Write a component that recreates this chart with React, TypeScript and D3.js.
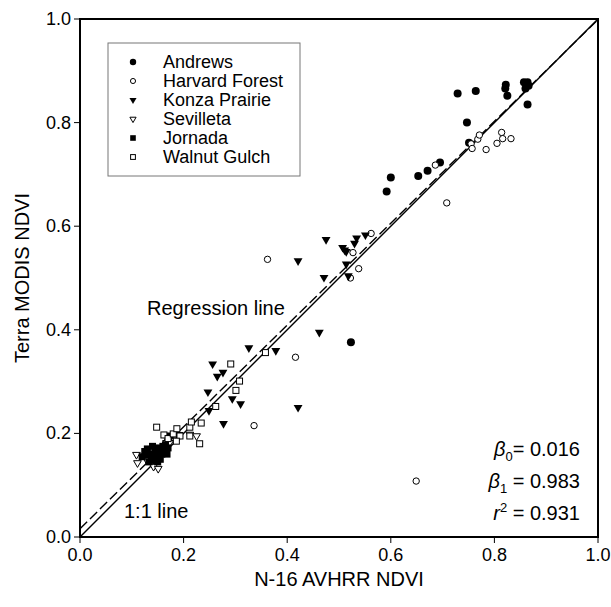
import React from "react";
import * as d3 from "d3";

const andrewsX = [0.523, 0.592, 0.600, 0.653, 0.671, 0.695, 0.751, 0.747, 0.729, 0.764, 0.822, 0.821, 0.825, 0.857, 0.864, 0.860, 0.866, 0.864];
const andrewsY = [0.376, 0.667, 0.694, 0.697, 0.707, 0.723, 0.761, 0.800, 0.856, 0.861, 0.873, 0.866, 0.852, 0.878, 0.878, 0.866, 0.871, 0.835];

const harvardX = [0.336, 0.362, 0.416, 0.522, 0.538, 0.527, 0.562, 0.649, 0.686, 0.708, 0.755, 0.757, 0.768, 0.771, 0.784, 0.805, 0.814, 0.816, 0.832];
const harvardY = [0.215, 0.536, 0.347, 0.500, 0.518, 0.549, 0.586, 0.108, 0.718, 0.645, 0.759, 0.750, 0.768, 0.776, 0.748, 0.760, 0.781, 0.769, 0.769];

const konzaX = [0.247, 0.249, 0.256, 0.265, 0.276, 0.277, 0.294, 0.310, 0.326, 0.378, 0.421, 0.421, 0.462, 0.471, 0.475, 0.507, 0.511, 0.514, 0.514, 0.518, 0.530, 0.534, 0.551, 0.145, 0.170];
const konzaY = [0.280, 0.244, 0.334, 0.310, 0.318, 0.219, 0.267, 0.257, 0.365, 0.360, 0.250, 0.533, 0.395, 0.501, 0.574, 0.559, 0.554, 0.551, 0.527, 0.504, 0.567, 0.577, 0.583, 0.170, 0.185];

const sevilletaX = [0.109, 0.111, 0.142, 0.151, 0.167, 0.173, 0.189, 0.212, 0.225, 0.128];
const sevilletaY = [0.159, 0.143, 0.136, 0.132, 0.182, 0.182, 0.191, 0.198, 0.195, 0.150];

const jornadaX = [0.125, 0.130, 0.135, 0.140, 0.145, 0.150, 0.155, 0.160, 0.148, 0.138, 0.142, 0.152, 0.158, 0.162, 0.165, 0.170, 0.128, 0.133, 0.145, 0.150, 0.155, 0.168, 0.120, 0.172, 0.192];
const jornadaY = [0.165, 0.170, 0.160, 0.175, 0.168, 0.172, 0.165, 0.175, 0.155, 0.150, 0.160, 0.158, 0.160, 0.168, 0.178, 0.172, 0.158, 0.145, 0.148, 0.145, 0.150, 0.160, 0.155, 0.195, 0.196];

const walnutX = [0.148, 0.162, 0.170, 0.180, 0.187, 0.193, 0.186, 0.212, 0.212, 0.215, 0.231, 0.234, 0.262, 0.301, 0.308, 0.291, 0.358];
const walnutY = [0.212, 0.197, 0.190, 0.199, 0.209, 0.195, 0.185, 0.212, 0.195, 0.222, 0.180, 0.220, 0.252, 0.283, 0.301, 0.334, 0.356];

const legendNames = ["Andrews", "Harvard Forest", "Konza Prairie", "Sevilleta", "Jornada", "Walnut Gulch"];
const ticks = [0, 0.2, 0.4, 0.6, 0.8, 1.0];
const beta0 = 0.016;
const beta1 = 0.983;
const r2 = 0.931;

type Kind = "fcircle" | "ocircle" | "ftri" | "otri" | "fsq" | "osq";

const series: { name: string; xs: number[]; ys: number[]; kind: Kind }[] = [
  { name: legendNames[0], xs: andrewsX, ys: andrewsY, kind: "fcircle" },
  { name: legendNames[1], xs: harvardX, ys: harvardY, kind: "ocircle" },
  { name: legendNames[2], xs: konzaX, ys: konzaY, kind: "ftri" },
  { name: legendNames[3], xs: sevilletaX, ys: sevilletaY, kind: "otri" },
  { name: legendNames[4], xs: jornadaX, ys: jornadaY, kind: "fsq" },
  { name: legendNames[5], xs: walnutX, ys: walnutY, kind: "osq" },
];

const FONT = "'Liberation Sans', Arial, Helvetica, sans-serif";

function Marker({ kind, x, y, scale = 1 }: { kind: Kind; x: number; y: number; scale?: number }) {
  const filled = kind.startsWith("f");
  const fill = filled ? "#000" : "#fff";
  const stroke = "#000";
  const sw = 1;
  if (kind === "fcircle") return <circle cx={x} cy={y} r={4 * scale} fill="#000" />;
  if (kind === "ocircle") return <circle cx={x} cy={y} r={3.2 * scale} fill="#fff" stroke={stroke} strokeWidth={sw} />;
  if (kind === "ftri" || kind === "otri") {
    const p = d3.symbol().type(d3.symbolTriangle).size((filled ? 34 : 26) * scale * scale)();
    return <path d={p || ""} transform={`translate(${x},${y}) rotate(180)`} fill={fill} stroke={filled ? "none" : stroke} strokeWidth={sw} />;
  }
  const s = (filled ? 7 : 6) * scale;
  return <rect x={x - s / 2} y={y - s / 2} width={s} height={s} fill={fill} stroke={filled ? "none" : stroke} strokeWidth={sw} />;
}

export default function App() {
  const W = 611, H = 607;
  const left = 80, right = 598, top = 19, bottom = 537;
  const x = d3.scaleLinear().domain([0, 1]).range([left, right]);
  const y = d3.scaleLinear().domain([0, 1]).range([bottom, top]);

  const oneToOne = d3.line<number>().x((d) => x(d)).y((d) => y(d))([0, 1]);
  const regX = [0, (1 - beta0) / beta1];
  const reg = d3.line<number>().x((d) => x(d)).y((d) => y(beta0 + beta1 * d))(regX);

  const legL = 108, legT = 43, legR = 300, legB = 176;
  const rowY0 = 62, rowDy = 19;

  return (
    <svg width={W} height={H} style={{ position: "absolute", left: 0, top: 0 }} fontFamily={FONT}>
      <rect width={W} height={H} fill="#fff" />
      <defs>
        <clipPath id="plotclip">
          <rect x={left} y={top} width={right - left} height={bottom - top} />
        </clipPath>
      </defs>
      {/* lines */}
      <g clipPath="url(#plotclip)">
        <path d={oneToOne || ""} stroke="#000" strokeWidth={1.4} fill="none" />
        <path d={reg || ""} stroke="#000" strokeWidth={1.4} fill="none" strokeDasharray="10,4" />
      </g>
      {/* points */}
      {series.map((s) => (
        <g key={s.name}>
          {s.xs.map((v, i) => (
            <Marker key={i} kind={s.kind} x={x(v)} y={y(s.ys[i])} />
          ))}
        </g>
      ))}
      {/* frame */}
      <rect x={left} y={top} width={right - left} height={bottom - top} fill="none" stroke="#000" strokeWidth={2} />
      {/* ticks */}
      {ticks.map((t) => (
        <g key={"x" + t}>
          <line x1={x(t)} x2={x(t)} y1={bottom} y2={bottom + 6} stroke="#000" strokeWidth={1} />
          <text x={x(t)} y={bottom + 24} textAnchor="middle" fontSize={18} fill="#000">{t.toFixed(1)}</text>
        </g>
      ))}
      {ticks.map((t) => (
        <g key={"y" + t}>
          <line x1={left - 6} x2={left} y1={y(t)} y2={y(t)} stroke="#000" strokeWidth={1} />
          <text x={left - 9} y={y(t) + 6} textAnchor="end" fontSize={18} fill="#000">{t.toFixed(1)}</text>
        </g>
      ))}
      {/* axis titles */}
      <text x={(left + right) / 2} y={bottom + 49} textAnchor="middle" fontSize={20} fill="#000">N-16 AVHRR NDVI</text>
      <text transform={`translate(29,${(top + bottom) / 2}) rotate(-90)`} textAnchor="middle" fontSize={20} fill="#000">Terra MODIS NDVI</text>
      {/* legend */}
      <rect x={legL} y={legT} width={legR - legL} height={legB - legT} fill="#fff" stroke="#777" strokeWidth={1} />
      {series.map((s, i) => (
        <g key={"leg" + s.name}>
          <Marker kind={s.kind} x={133} y={rowY0 + i * rowDy} scale={0.8} />
          <text x={163} y={rowY0 + i * rowDy + 6} fontSize={18} fill="#000">{s.name}</text>
        </g>
      ))}
      {/* annotations */}
      <text x={147} y={315} fontSize={20} fill="#000">Regression line</text>
      <text x={124} y={518} fontSize={20} fill="#000">1:1 line</text>
      <text x={580} y={456} textAnchor="end" fontSize={20} fill="#000">
        <tspan fontStyle="italic">β</tspan><tspan fontSize={13} dy={5}>0</tspan><tspan dy={-5}>= {beta0.toFixed(3)}</tspan>
      </text>
      <text x={580} y={488} textAnchor="end" fontSize={20} fill="#000">
        <tspan fontStyle="italic">β</tspan><tspan fontSize={13} dy={5}>1</tspan><tspan dy={-5}> = {beta1.toFixed(3)}</tspan>
      </text>
      <text x={580} y={520} textAnchor="end" fontSize={20} fill="#000">
        <tspan fontStyle="italic">r</tspan><tspan fontSize={13} dy={-8}>2</tspan><tspan dy={8}> = {r2.toFixed(3)}</tspan>
      </text>
    </svg>
  );
}
